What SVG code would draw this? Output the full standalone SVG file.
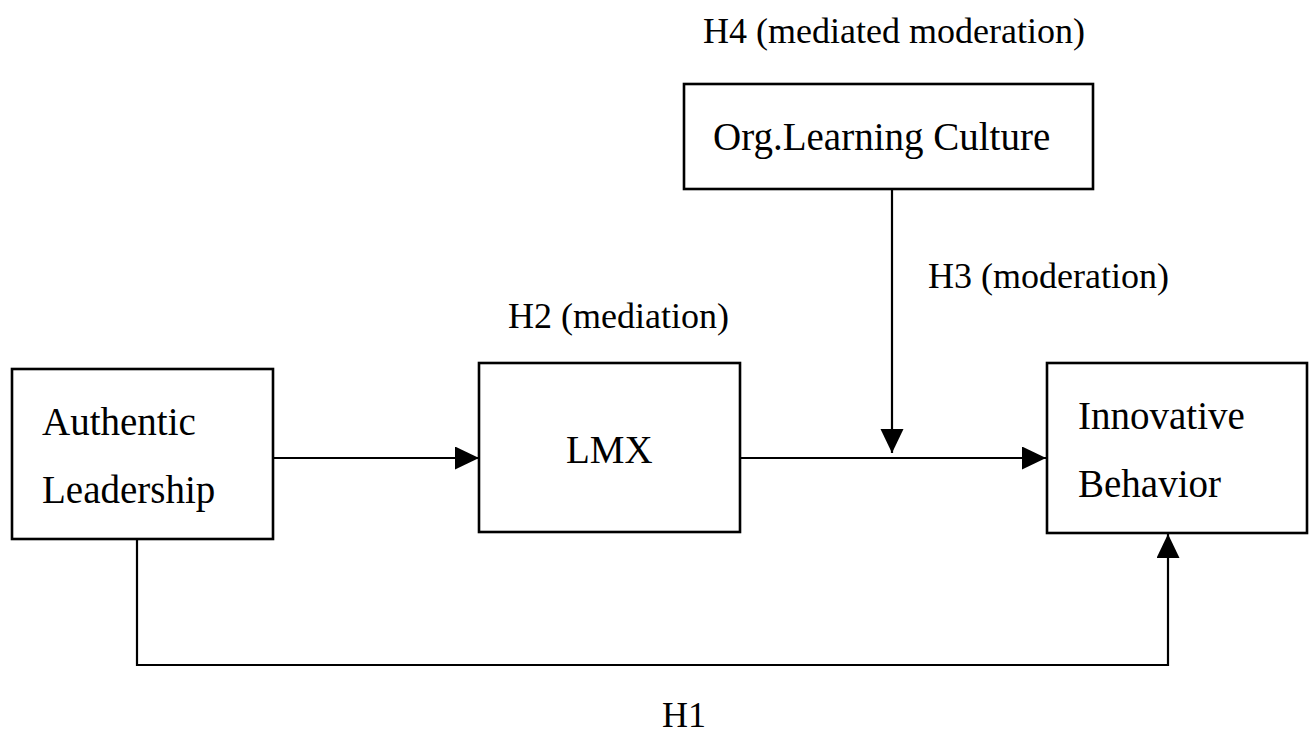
<svg xmlns="http://www.w3.org/2000/svg" width="1309" height="736" viewBox="0 0 1309 736">
<style>
.box{fill:#fff;stroke:#000;stroke-width:2.6}
.t{font-family:"Liberation Serif","Times New Roman",serif;font-size:39px;fill:#000}
.l{font-family:"Liberation Serif","Times New Roman",serif;font-size:36px;fill:#000}
.c{fill:none;stroke:#000;stroke-width:2.2}
</style>
<defs>
<marker id="ah" markerUnits="userSpaceOnUse" markerWidth="25" markerHeight="24" refX="24" refY="11.5" orient="auto">
<path d="M0,0 L24,11.5 L0,23 z" fill="#000"/>
</marker>
</defs>
<rect width="1309" height="736" fill="#fff"/>
<g id="connectors">
<line class="c" x1="273" y1="458" x2="479" y2="458" marker-end="url(#ah)"/>
<line class="c" x1="740" y1="458" x2="1046" y2="458" marker-end="url(#ah)"/>
<line class="c" x1="892" y1="189" x2="892" y2="453" marker-end="url(#ah)"/>
<polyline class="c" points="137,539 137,665 1168,665 1168,534" marker-end="url(#ah)"/>
</g>
<g id="authentic">
<rect class="box" x="12" y="369" width="261" height="170"/>
<text class="t" x="42" y="435">Authentic</text>
<text class="t" x="42" y="503">Leadership</text>
</g>
<g id="lmx">
<rect class="box" x="479" y="363" width="261" height="169"/>
<text class="t" x="566" y="463">LMX</text>
</g>
<g id="org">
<rect class="box" x="684" y="84" width="409" height="105"/>
<text class="t" x="713" y="150">Org.Learning Culture</text>
</g>
<g id="innovative">
<rect class="box" x="1047" y="363" width="260" height="170"/>
<text class="t" x="1078" y="429">Innovative</text>
<text class="t" x="1078" y="497">Behavior</text>
</g>
<g id="labels">
<text class="l" x="703" y="43">H4 (mediated moderation)</text>
<text class="l" x="928" y="288">H3 (moderation)</text>
<text class="l" x="508" y="328">H2 (mediation)</text>
<text class="l" x="662" y="727">H1</text>
</g>
</svg>
